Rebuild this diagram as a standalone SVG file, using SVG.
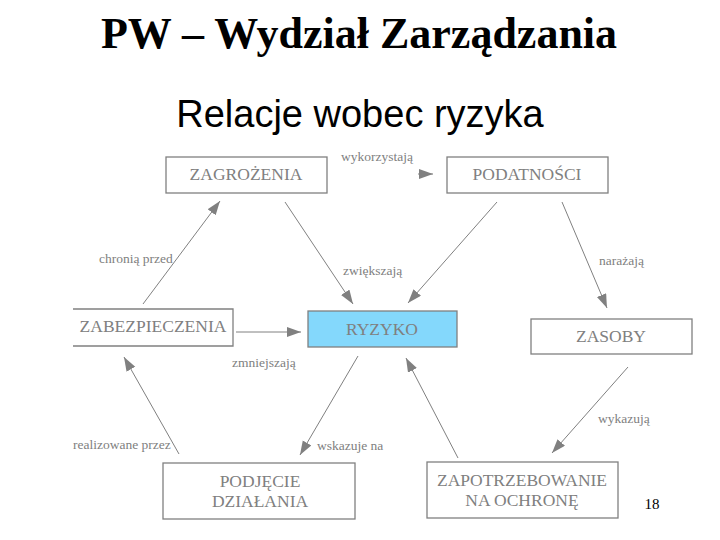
<svg xmlns="http://www.w3.org/2000/svg" width="720" height="540" viewBox="0 0 720 540">
<style>
.box{fill:#fff;stroke:#808080;stroke-width:1.3}
.risk{fill:#84D8FC;stroke:#808080;stroke-width:1.3}
.nt{font-family:"Liberation Serif","Times New Roman",serif;font-size:17.5px;fill:#808080;text-anchor:middle}
.lb{font-family:"Liberation Serif","Times New Roman",serif;font-size:13.5px;fill:#808080}
.cn{stroke:#808080;stroke-width:1;fill:none;marker-end:url(#ah)}
</style>
<defs>
<marker id="ah" markerUnits="userSpaceOnUse" markerWidth="15" markerHeight="11" refX="14" refY="5" orient="auto">
<path d="M0,0 L14,5 L0,10 z" fill="#808080"/>
</marker>
</defs>
<rect width="720" height="540" fill="#fff"/>
<text x="359" y="48" font-family="Liberation Serif,'Times New Roman',serif" font-size="44" font-weight="bold" text-anchor="middle" fill="#000">PW – Wydział Zarządzania</text>
<text x="360" y="127" font-family="Liberation Sans,Arial,sans-serif" font-size="38" text-anchor="middle" fill="#000">Relacje wobec ryzyka</text>

<g id="connectors">
<path class="cn" d="M143,304 L220,201"/>
<path class="cn" d="M285,202 L353,304"/>
<path class="cn" d="M418,174 L433,174"/>
<path class="cn" d="M497,202 L408,303"/>
<path class="cn" d="M562,202 L607,308"/>
<path class="cn" d="M236,332 L301,332"/>
<path class="cn" d="M358,356 L300,455"/>
<path class="cn" d="M179,454 L124,357"/>
<path class="cn" d="M458,458 L406,358"/>
<path class="cn" d="M628,367 L552,453"/>
<text class="lb" x="341" y="161">wykorzystają</text>
<text class="lb" x="99" y="263">chronią przed</text>
<text class="lb" x="343" y="275">zwiększają</text>
<text class="lb" x="599" y="265">narażają</text>
<text class="lb" x="232" y="367">zmniejszają</text>
<text class="lb" x="73" y="449">realizowane przez</text>
<text class="lb" x="317" y="450">wskazuje na</text>
<text class="lb" x="598" y="423">wykazują</text>
</g>

<g id="zagrozenia">
<rect class="box" x="166" y="157" width="161" height="36"/>
<text class="nt" x="246" y="180">ZAGROŻENIA</text>
</g>
<g id="podatnosci">
<rect class="box" x="447" y="157" width="161" height="36"/>
<text class="nt" x="527" y="180">PODATNOŚCI</text>
</g>
<g id="zabezpieczenia">
<path class="box" d="M73,309 H233 V346 H73"/>
<text class="nt" x="153" y="332">ZABEZPIECZENIA</text>
</g>
<g id="ryzyko">
<rect class="risk" x="308" y="311" width="149" height="36"/>
<text class="nt" x="382" y="335">RYZYKO</text>
</g>
<g id="zasoby">
<rect class="box" x="531" y="319" width="161" height="35"/>
<text class="nt" x="611" y="342">ZASOBY</text>
</g>
<g id="podjecie">
<rect class="box" x="163" y="463" width="192" height="56"/>
<text class="nt" x="260" y="487">PODJĘCIE</text>
<text class="nt" x="260" y="507">DZIAŁANIA</text>
</g>
<g id="zapotrzebowanie">
<rect class="box" x="427" y="462" width="191" height="56"/>
<text class="nt" x="522" y="486">ZAPOTRZEBOWANIE</text>
<text class="nt" x="522" y="506">NA OCHRONĘ</text>
</g>
<text x="652" y="509" font-family="Liberation Serif,'Times New Roman',serif" font-size="15" text-anchor="middle" fill="#000">18</text>
</svg>
